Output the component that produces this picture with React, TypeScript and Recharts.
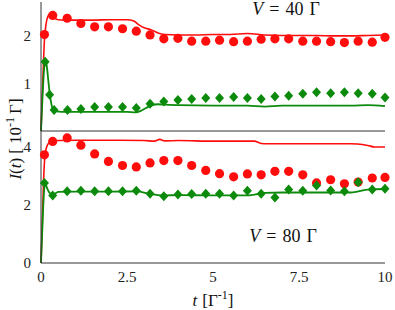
import React from 'react';
import { ComposedChart, Line, Scatter, XAxis, YAxis } from 'recharts';

const RED = '#ff0d0d';
const GREEN = '#0b8a0b';
const AXIS = '#333333';
const FONT = "'Liberation Serif', 'DejaVu Serif', serif";

// marker times (numerical points), shared by both panels
const markT = [0.1, 0.34, 0.76, 1.16, 1.56, 1.96, 2.37, 2.77, 3.17, 3.57, 3.98, 4.38, 4.79, 5.19, 5.6, 6.0, 6.4, 6.8, 7.2, 7.61, 8.01, 8.42, 8.82, 9.22, 9.63, 10.0];
// V = 40: the diamonds have one extra early point
const markTGreen40 = [0.12, 0.25, 0.38, 0.77, 1.16, 1.56, 1.96, 2.37, 2.77, 3.17, 3.57, 3.98, 4.38, 4.79, 5.19, 5.6, 6.0, 6.4, 6.8, 7.2, 7.61, 8.01, 8.42, 8.82, 9.22, 9.63, 10.0];

const red40 = [2.02, 2.42, 2.36, 2.25, 2.18, 2.18, 2.14, 2.09, 2.01, 1.93, 1.94, 1.88, 1.88, 1.9, 1.87, 1.88, 1.92, 1.93, 1.93, 1.88, 1.88, 1.87, 1.85, 1.88, 1.86, 1.96];
const green40 = [1.45, 0.76, 0.44, 0.44, 0.46, 0.5, 0.5, 0.5, 0.48, 0.57, 0.62, 0.65, 0.67, 0.69, 0.69, 0.71, 0.69, 0.67, 0.72, 0.74, 0.78, 0.81, 0.79, 0.81, 0.79, 0.78, 0.7];
const red80 = [3.73, 4.19, 4.31, 4.06, 3.76, 3.5, 3.36, 3.31, 3.45, 3.53, 3.53, 3.36, 3.19, 3.08, 2.97, 3.07, 3.04, 3.16, 3.16, 3.04, 2.76, 2.87, 2.73, 2.79, 2.93, 2.95];
const green80 = [2.76, 2.33, 2.47, 2.49, 2.47, 2.47, 2.47, 2.49, 2.39, 2.3, 2.36, 2.38, 2.39, 2.39, 2.33, 2.49, 2.39, 2.26, 2.53, 2.49, 2.67, 2.5, 2.47, 2.78, 2.53, 2.56];

// continuous curves
const redLineT40 = [0, 0.05, 0.1, 0.15, 0.2, 0.25, 0.3, 0.4, 0.5, 0.7, 1, 1.5, 2, 2.5, 2.7, 2.85, 3.0, 3.2, 3.4, 3.6, 4, 4.5, 5, 5.5, 6, 6.5, 7, 7.5, 8, 8.5, 9, 9.5, 10];
const redLine40 = [0, 1.0, 1.9, 2.25, 2.4, 2.44, 2.42, 2.36, 2.33, 2.32, 2.32, 2.32, 2.33, 2.33, 2.3, 2.22, 2.16, 2.12, 2.05, 2.02, 2.01, 2.01, 2.02, 2.02, 2.04, 2.01, 2.0, 2.0, 2.0, 1.99, 1.99, 2.0, 2.01];
const greenLineT40 = [0, 0.05, 0.1, 0.13, 0.17, 0.22, 0.28, 0.35, 0.45, 0.6, 1, 1.5, 2, 2.5, 2.75, 2.9, 3.05, 3.2, 3.4, 3.6, 4, 5, 6, 6.5, 7, 8, 9, 9.5, 10];
const greenLine40 = [0, 0.8, 1.38, 1.46, 1.35, 1.0, 0.65, 0.45, 0.41, 0.4, 0.4, 0.4, 0.4, 0.4, 0.39, 0.42, 0.48, 0.53, 0.56, 0.55, 0.54, 0.53, 0.53, 0.51, 0.53, 0.53, 0.53, 0.54, 0.52];
const redLineT80 = [0, 0.04, 0.08, 0.12, 0.18, 0.25, 0.35, 0.5, 1, 2, 3, 3.3, 3.45, 3.6, 4, 5, 6, 6.2, 6.4, 6.6, 7, 8, 9, 9.2, 9.5, 9.7, 10];
const redLine80 = [0, 1.5, 3.0, 3.75, 4.05, 4.15, 4.2, 4.22, 4.23, 4.23, 4.22, 4.2, 4.26, 4.21, 4.22, 4.2, 4.2, 4.2, 4.12, 4.11, 4.11, 4.11, 4.11, 4.1, 4.05, 4.0, 4.0];
const greenLineT80 = [0, 0.04, 0.08, 0.12, 0.17, 0.25, 0.35, 0.5, 1, 2, 2.8, 3.1, 3.4, 3.6, 4, 5, 6, 6.2, 6.5, 7, 8, 9, 9.2, 9.5, 10];
const greenLine80 = [0, 1.2, 2.3, 2.76, 2.6, 2.42, 2.36, 2.45, 2.46, 2.46, 2.47, 2.4, 2.34, 2.33, 2.34, 2.33, 2.33, 2.36, 2.42, 2.43, 2.43, 2.43, 2.46, 2.53, 2.55];

const xMajor = [0, 2.5, 5, 7.5, 10];
const xMinor = [0, 1.25, 2.5, 3.75, 5, 6.25, 7.5, 8.75, 10];
const yTicks40 = [0, 1, 2];
const yMinor40 = [0, 0.5, 1, 1.5, 2, 2.5];
const yTicks80 = [0, 2, 4];
const yMinor80 = [0, 1, 2, 3, 4];

const zip = (ts: number[], vs: number[]) => ts.map((t, i) => ({ t, v: vs[i] }));

const Dot = (p: any) => <circle cx={p.cx} cy={p.cy} r={4.6} fill={RED} />;
const Diamond = (p: any) => (
  <polygon
    points={`${p.cx},${p.cy - 5} ${p.cx + 4.5},${p.cy} ${p.cx},${p.cy + 5} ${p.cx - 4.5},${p.cy}`}
    fill={GREEN}
  />
);

const tickStyle = { fontFamily: FONT, fontSize: 15, fill: '#222', style: { fontFamily: FONT } };

interface PanelProps {
  height: number;
  domainMax: number;
  yTicks: number[];
  yMinor: number[];
  redPts: number[];
  greenPts: number[];
  greenT: number[];
  redLineT: number[];
  redLine: number[];
  greenLineT: number[];
  greenLine: number[];
  labelled: boolean;
}

const Panel: React.FC<PanelProps> = (p) => (
  <ComposedChart
    width={395}
    height={p.height}
    margin={p.labelled ? { top: 0, right: 10, bottom: 0, left: 0 } : { top: 2, right: 10, bottom: 1, left: 0 }}
  >
    {p.labelled ? (
      <XAxis
        type="number"
        dataKey="t"
        domain={[0, 10]}
        ticks={xMajor}
        height={47}
        tickLine={false}
        stroke={AXIS}
        tick={tickStyle}
      />
    ) : null}
    <XAxis
      xAxisId={p.labelled ? 'minor' : 0}
      type="number"
      dataKey="t"
      domain={[0, 10]}
      ticks={xMinor}
      mirror
      tick={false}
      tickSize={4}
      axisLine={!p.labelled}
      stroke={AXIS}
    />
    <YAxis
      type="number"
      domain={[0, p.domainMax]}
      ticks={p.yTicks}
      width={41}
      tickLine={false}
      tickMargin={4}
      stroke={AXIS}
      tick={tickStyle}
    />
    <YAxis
      yAxisId="minor"
      type="number"
      domain={[0, p.domainMax]}
      ticks={p.yMinor}
      mirror
      tick={false}
      tickSize={4}
      axisLine={false}
      stroke={AXIS}
    />
    <Line data={zip(p.redLineT, p.redLine)} dataKey="v" type="monotone" stroke={RED} strokeWidth={1.6} dot={false} isAnimationActive={false} />
    <Line data={zip(p.greenLineT, p.greenLine)} dataKey="v" type="monotone" stroke={GREEN} strokeWidth={1.8} dot={false} isAnimationActive={false} />
    <Scatter data={zip(markT, p.redPts)} dataKey="v" shape={Dot} isAnimationActive={false} />
    <Scatter data={zip(p.greenT, p.greenPts)} dataKey="v" shape={Diamond} isAnimationActive={false} />
  </ComposedChart>
);

export default function App() {
  return (
    <div style={{ position: 'absolute', left: 0, top: 0, width: 395, height: 310, background: '#fff', fontFamily: FONT }}>
      <div style={{ position: 'absolute', left: 0, top: 0 }}>
        <Panel
          height={132}
          domainMax={2.7}
          yTicks={yTicks40}
          yMinor={yMinor40}
          redPts={red40}
          greenPts={green40}
          greenT={markTGreen40}
          redLineT={redLineT40}
          redLine={redLine40}
          greenLineT={greenLineT40}
          greenLine={greenLine40}
          labelled={false}
        />
      </div>
      <div style={{ position: 'absolute', left: 0, top: 131 }}>
        <Panel
          height={179}
          domainMax={4.55}
          yTicks={yTicks80}
          yMinor={yMinor80}
          redPts={red80}
          greenPts={green80}
          greenT={markT}
          redLineT={redLineT80}
          redLine={redLine80}
          greenLineT={greenLineT80}
          greenLine={greenLine80}
          labelled
        />
      </div>
      <svg width={395} height={310} style={{ position: 'absolute', left: 0, top: 0, pointerEvents: 'none', fontFamily: FONT }}>
        <g fill="#111">
          <text x={286} y={15} fontSize={18} textAnchor="middle">
            <tspan fontStyle="italic">V</tspan>
            <tspan dx={6}>=</tspan>
            <tspan dx={6}>40</tspan>
            <tspan dx={6}>Γ</tspan>
          </text>
          <text x={283} y={242} fontSize={18} textAnchor="middle">
            <tspan fontStyle="italic">V</tspan>
            <tspan dx={6}>=</tspan>
            <tspan dx={6}>80</tspan>
            <tspan dx={6}>Γ</tspan>
          </text>
          <text x={213} y={306} fontSize={17} textAnchor="middle">
            <tspan fontStyle="italic">t</tspan>
            <tspan dx={5}>[Γ</tspan>
            <tspan fontSize={12} dy={-7}>-1</tspan>
            <tspan dy={7}>]</tspan>
          </text>
          <text x={0} y={0} fontSize={17} textAnchor="middle" transform="translate(21,139) rotate(-90)">
            <tspan fontStyle="italic">I</tspan>
            <tspan>(</tspan>
            <tspan fontStyle="italic">t</tspan>
            <tspan>)</tspan>
            <tspan dx={4}>[ 10</tspan>
            <tspan fontSize={12} dy={-7}>-1</tspan>
            <tspan dy={7} dx={3}>Γ]</tspan>
          </text>
        </g>
      </svg>
    </div>
  );
}
